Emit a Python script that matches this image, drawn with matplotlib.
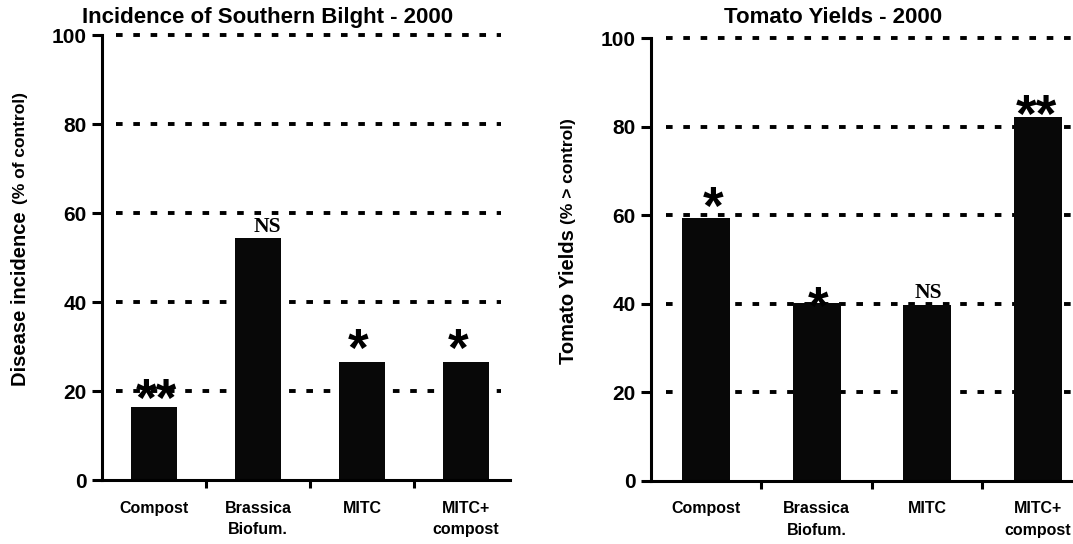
import matplotlib
matplotlib.use('Agg')
import matplotlib.pyplot as plt

# ---- data ----
categories = ['Compost', 'Brassica\nBiofum.', 'MITC', 'MITC+\ncompost']

blightValues = [16.5, 54.3, 26.5, 26.5]
blightMarks = ['**', 'NS', '*', '*']

yieldValues = [59.3, 40.2, 39.6, 82.1]
yieldMarks = ['*', '*', 'NS', '**']

yTicks = [0, 20, 40, 60, 80, 100]

# annotation offsets (points) above each bar, x shift (points)
blightOffsets = [(2, 10.5), (7, 4.5), (-3, 14.5), (-6, 14.5)]
yieldOffsets = [(5, 13), (1, 2), (1, 5.5), (-1, 7)]

plt.rcParams['font.family'] = ['Liberation Sans', 'DejaVu Sans']
plt.rcParams['font.weight'] = 'bold'


def drawPanel(ax, values, marks, offsets, barWidth, gridStart, gridEnd, spineEnd):
    x = range(len(values))
    for g in yTicks[1:]:
        ax.hlines(g, gridStart, gridEnd, colors='black', linewidth=2.8,
                  linestyles=(0, (1.7, 2.75)), zorder=1, clip_on=False)
    ax.bar(x, values, width=barWidth, color='#080808', zorder=2)

    for i, (v, m, off) in enumerate(zip(values, marks, offsets)):
        if m == 'NS':
            ax.annotate(m, xy=(i, v), xytext=off, textcoords='offset points',
                        ha='center', va='baseline', fontsize=15.5,
                        family='Liberation Serif', fontweight='bold', zorder=3)
        else:
            ax.annotate(m, xy=(i, v), xytext=(off[0], off[1] - 17.5),
                        textcoords='offset points', ha='center', va='baseline',
                        fontsize=38, family='Liberation Sans',
                        fontweight='bold', zorder=3)

    ax.set_xlim(-0.5, 3.5)
    ax.set_ylim(0, 100)
    ax.set_yticks(yTicks)
    ax.set_yticklabels([str(t) for t in yTicks], fontsize=15, fontweight='bold')
    ax.set_xticks(list(x))
    ax.set_xticklabels(categories, fontsize=11.5, fontweight='bold',
                       linespacing=1.55)
    ax.set_xticks([0.5, 1.5, 2.5], minor=True)
    ax.tick_params(axis='x', which='major', length=0, pad=15)
    ax.tick_params(axis='x', which='minor', length=6, width=2.2,
                   direction='out')
    ax.tick_params(axis='y', length=7, width=2.2, direction='out', pad=4)

    ax.spines['top'].set_visible(False)
    ax.spines['right'].set_visible(False)
    ax.spines['left'].set_linewidth(2.2)
    ax.spines['bottom'].set_linewidth(2.2)
    ax.spines['bottom'].set_bounds(-0.5, spineEnd)
    ax.patch.set_alpha(0)


def main():
    fig = plt.figure(figsize=(10.73, 5.44), dpi=100, facecolor='white')

    axL = fig.add_axes([0.0951, 0.1176, 0.3877, 0.818])
    drawPanel(axL, blightValues, blightMarks, blightOffsets, 0.44,
              -0.37, 3.34, 3.42)

    axR = fig.add_axes([0.6067, 0.1167, 0.4119, 0.8134])
    drawPanel(axR, yieldValues, yieldMarks, yieldOffsets, 0.435,
              -0.36, 3.6, 3.5)

    fig.text(0.2498, 0.967, 'Incidence of Southern Bilght - 2000',
             ha='center', va='center', fontsize=16, fontweight='bold')
    fig.text(0.776, 0.967, 'Tomato Yields - 2000',
             ha='center', va='center', fontsize=16, fontweight='bold')

    # y labels, two parts each
    fig.text(21 / 1073, 1 - 211 / 544, 'Disease incidence', rotation=90,
             ha='center', va='top', fontsize=14.5, fontweight='bold')
    fig.text(21 / 1073, 1 - 204 / 544, '(% of control)', rotation=90,
             ha='center', va='bottom', fontsize=12.5, fontweight='bold')
    fig.text(568 / 1073, 1 - 229 / 544, 'Tomato Yields', rotation=90,
             ha='center', va='top', fontsize=14.5, fontweight='bold')
    fig.text(568 / 1073, 1 - 224 / 544, '(% > control)', rotation=90,
             ha='center', va='bottom', fontsize=12.5, fontweight='bold')

    fig.savefig('out.png', dpi=100, facecolor='white')


if __name__ == '__main__':
    main()
